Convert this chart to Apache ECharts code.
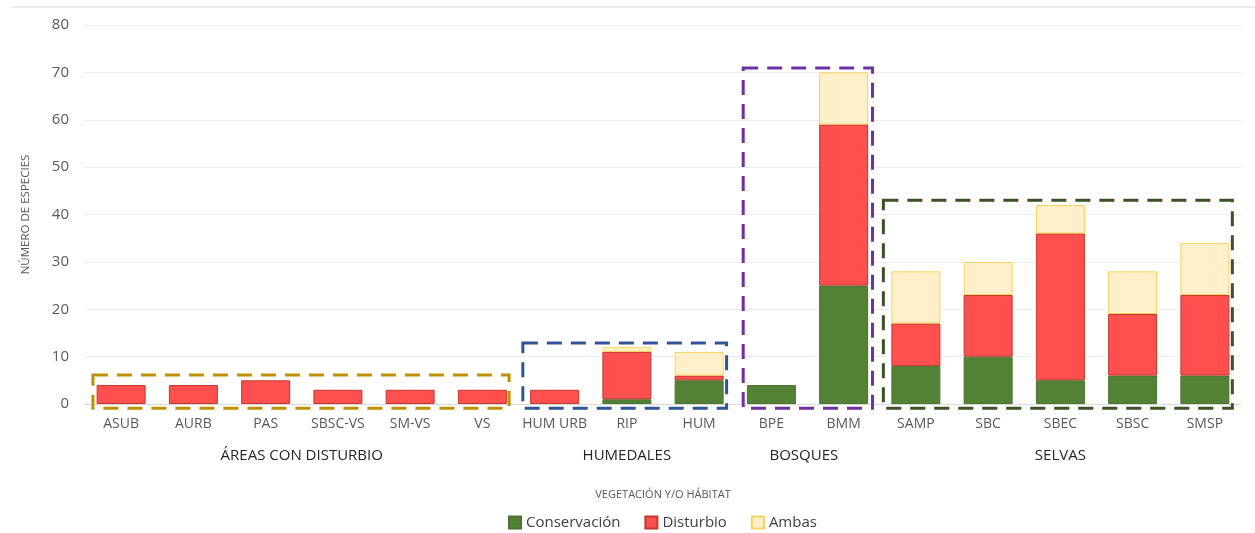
<!DOCTYPE html>
<html>
<head>
<meta charset="utf-8">
<script src="https://cdn.jsdelivr.net/npm/echarts@6/dist/echarts.min.js"></script>
<style>
  html, body { margin: 0; padding: 0; background: #fff; }
  #main { width: 1255px; height: 533px; }
</style>
</head>
<body>
<div id="main"></div>
<script>
// datos del gráfico
var categorias = ['ASUB', 'AURB', 'PAS', 'SBSC-VS', 'SM-VS', 'VS', 'HUM URB', 'RIP', 'HUM',
                  'BPE', 'BMM', 'SAMP', 'SBC', 'SBEC', 'SBSC', 'SMSP'];
var conservacion = [0, 0, 0, 0, 0, 0, 0, 1, 5, 4, 25, 8, 10, 5, 6, 6];
var disturbio    = [4, 4, 5, 3, 3, 3, 3, 10, 1, 0, 34, 9, 13, 31, 13, 17];
var ambas        = [0, 0, 0, 0, 0, 0, 0, 1, 5, 0, 11, 11, 7, 6, 9, 11];
var grupos = ['ÁREAS CON DISTURBIO', 'HUMEDALES', 'BOSQUES', 'SELVAS'];

// recuadros punteados: primera y última categoría, valor superior, color
var recuadros = [
  { desde: 0,  hasta: 5,  tope: 6.1,  color: '#BF9000', izq: 0.39, der: 0.37 },
  { desde: 6,  hasta: 8,  tope: 12.9, color: '#2F5597', izq: 0.44, der: 0.38 },
  { desde: 9,  hasta: 10, tope: 70.9, color: '#7030A0', izq: 0.39, der: 0.40 },
  { desde: 11, hasta: 15, tope: 43,   color: '#3B5324', izq: 0.45, der: 0.38 }
];
var etiquetasGrupo = [
  { texto: grupos[0], centro: 2.5 },
  { texto: grupos[1], centro: 7 },
  { texto: grupos[2], centro: 9.45 },
  { texto: grupos[3], centro: 13 }
];

var fuente = '"Open Sans", "Noto Sans", sans-serif';

// los ceros no se dibujan (sin borde de barra vacía)
function sinCeros(arr) {
  return arr.map(function (v) { return v === 0 ? '-' : v; });
}

var myChart = echarts.init(document.getElementById('main'));

var option = {
  animation: false,
  textStyle: { fontFamily: fuente },
  grid: { left: 85, right: 14, top: 25, bottom: 129, containLabel: false },
  legend: {
    bottom: -2,
    left: 503,
    icon: 'rect',
    itemWidth: 12,
    itemHeight: 12,
    itemGap: 24,
    textStyle: { fontSize: 15, color: '#404040', fontFamily: fuente },
    data: ['Conservación', 'Disturbio', 'Ambas']
  },
  xAxis: {
    type: 'category',
    data: categorias,
    name: 'VEGETACIÓN Y/O HÁBITAT',
    nameLocation: 'middle',
    nameGap: 85,
    nameTextStyle: { fontSize: 11, color: '#595959' },
    axisLine: { lineStyle: { color: '#d9d9d9' } },
    axisTick: { show: false },
    axisLabel: { interval: 0, fontSize: 14, color: '#595959', margin: 13 }
  },
  yAxis: {
    type: 'value',
    min: 0,
    max: 80,
    interval: 10,
    name: 'NÚMERO DE ESPECIES',
    nameLocation: 'middle',
    nameGap: 53,
    nameRotate: 90,
    nameTextStyle: { fontSize: 11.5, color: '#595959' },
    axisLine: { show: false },
    axisTick: { show: false },
    axisLabel: { fontSize: 15, color: '#595959', margin: 16 },
    splitLine: { lineStyle: { color: '#ececec' } }
  },
  series: [
    {
      name: 'Conservación', type: 'bar', stack: 'total', barWidth: 49,
      itemStyle: { color: '#548235', borderColor: '#4a7430', borderWidth: 1 },
      data: sinCeros(conservacion)
    },
    {
      name: 'Disturbio', type: 'bar', stack: 'total', barWidth: 49,
      itemStyle: { color: '#FF4F4F', borderColor: '#C0392B', borderWidth: 1 },
      data: sinCeros(disturbio)
    },
    {
      name: 'Ambas', type: 'bar', stack: 'total', barWidth: 49,
      itemStyle: { color: '#FFF0C9', borderColor: '#F5D45E', borderWidth: 1 },
      data: sinCeros(ambas)
    }
  ]
};

myChart.setOption(option);

// recuadros y nombres de grupos a partir de las escalas del gráfico
function px(cat, val) {
  return myChart.convertToPixel({ xAxisIndex: 0, yAxisIndex: 0 }, [cat, val]);
}
var banda = px(1, 0)[0] - px(0, 0)[0];
var elementos = [
  { type: 'line', shape: { x1: 12, y1: 7, x2: 1255, y2: 7 }, style: { stroke: '#d9d9d9', lineWidth: 1 } }
];
recuadros.forEach(function (r) {
  var a = px(r.desde, r.tope);
  var b = px(r.hasta, -0.9);
  var x1 = a[0] - banda * r.izq;
  var x2 = b[0] + banda * r.der;
  elementos.push({
    type: 'rect',
    z: 10,
    shape: { x: x1, y: a[1], width: x2 - x1, height: b[1] - a[1] },
    style: { fill: null, stroke: r.color, lineWidth: 3, lineDash: [15, 9] }
  });
});
etiquetasGrupo.forEach(function (g) {
  var p = px(0, 0);
  var x = p[0] + banda * g.centro;
  elementos.push({
    type: 'text',
    x: x,
    y: 456,
    style: {
      text: g.texto, fill: '#262626', font: '15px ' + fuente,
      align: 'center', verticalAlign: 'middle'
    }
  });
});
myChart.setOption({ graphic: elementos });
</script>
</body>
</html>
